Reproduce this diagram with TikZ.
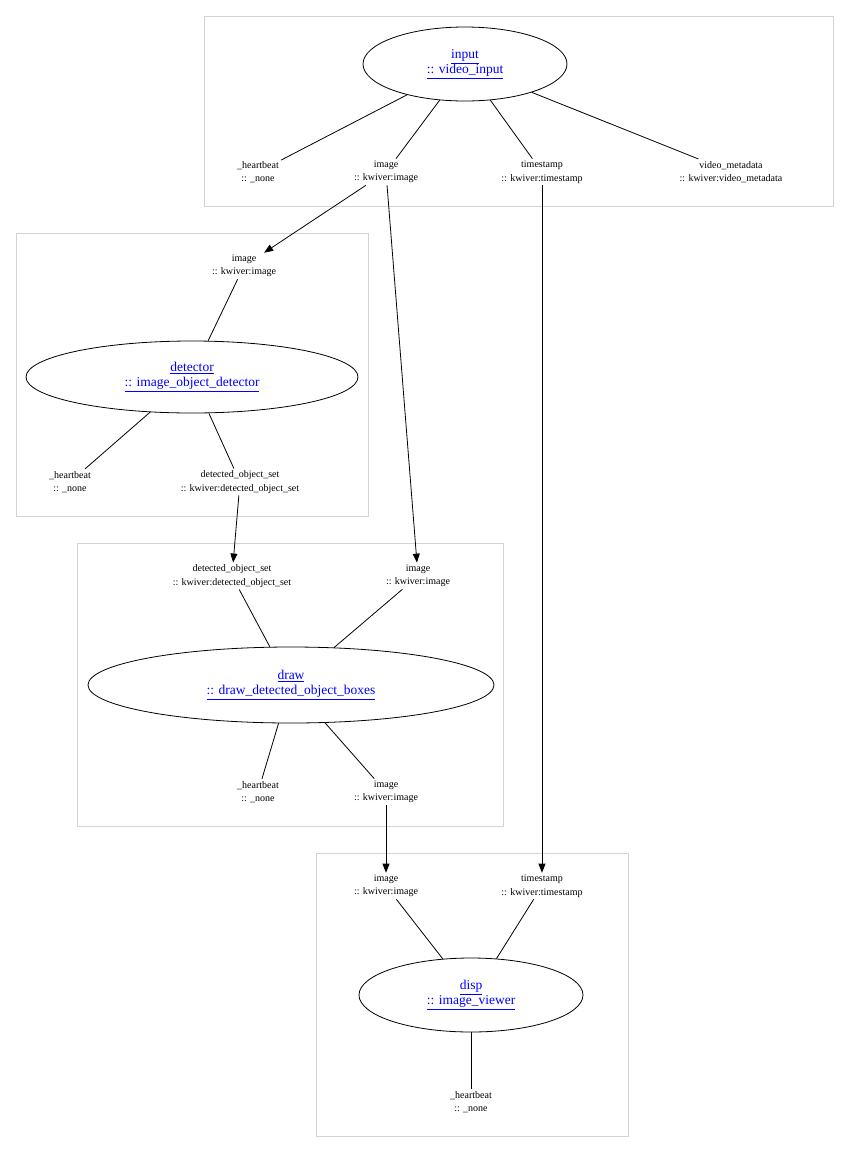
\documentclass[tikz,border=0pt]{standalone}
\usepackage{fontspec}
\setmainfont{Liberation Serif}
\usetikzlibrary{shapes.geometric,arrows.meta}
\definecolor{lnk}{RGB}{0,0,255}
\definecolor{clus}{RGB}{211,211,211}
\begin{document}
\begin{tikzpicture}[x=1pt,y=-1pt,
  lab/.style={align=center,font=\fontsize{10}{13.5}\selectfont,inner sep=2pt},
  proc/.style={ellipse,draw,line width=0.8pt,minimum width=#1,align=center,text=lnk,font=\fontsize{13.5}{15}\selectfont,inner sep=0pt},
  clu/.style={draw=clus,line width=0.8pt},
  ln/.style={line width=0.8pt},
  arr/.style={line width=0.8pt,-{Triangle[length=9pt,width=7pt]}}]
\useasboundingbox (0,0) rectangle (849,1152);
% clusters
\draw[clu] (204,16) rectangle (833,206);
\draw[clu] (16,233) rectangle (368,516);
\draw[clu] (77,543) rectangle (503,826);
\draw[clu] (316,853) rectangle (628,1136);
% cluster 1
\node[proc=204pt,minimum height=74pt] (input) at (465,64) {\underline{input}\\\underline{:: video\_input}};
\node[lab] (hb1) at (258,172) {\_heartbeat\\:: \_none};
\node[lab] (img1) at (386,172) {image\\:: kwiver:image};
\node[lab] (ts1) at (542,172) {timestamp\\:: kwiver:timestamp};
\node[lab] (vm1) at (731,172) {video\_metadata\\:: kwiver:video\_metadata};
\draw[ln] (input.208) -- (hb1);
\draw[ln] (input.235) -- (img1);
\draw[ln] (input.305) -- (ts1);
\draw[ln] (input.337) -- (vm1);
% cluster 2
\node[lab] (dimg) at (244,266) {image\\:: kwiver:image};
\node[proc=332pt,minimum height=72pt] (det) at (192,377) {\underline{detector}\\\underline{:: image\_object\_detector}};
\node[lab] (hb2) at (70,482) {\_heartbeat\\:: \_none};
\node[lab] (dos2) at (240,482) {detected\_object\_set\\:: kwiver:detected\_object\_set};
\draw[ln] (det.66) -- (dimg);
\draw[ln] (det.220) -- (hb2);
\draw[ln] (det.295) -- (dos2);
% cluster 3
\node[lab] (dos3) at (232,576) {detected\_object\_set\\:: kwiver:detected\_object\_set};
\node[lab] (img3) at (418,576) {image\\:: kwiver:image};
\node[proc=406pt,minimum height=76pt] (draw) at (291,685) {\underline{draw}\\\underline{:: draw\_detected\_object\_boxes}};
\node[lab] (hb3) at (258,792) {\_heartbeat\\:: \_none};
\node[lab] (img3o) at (386,792) {image\\:: kwiver:image};
\draw[ln] (draw.119) -- (dos3);
\draw[ln] (draw.41) -- (img3);
\draw[ln] (draw.252) -- (hb3);
\draw[ln] (draw.312) -- (img3o);
% cluster 4
\node[lab] (img4) at (386,886) {image\\:: kwiver:image};
\node[lab] (ts4) at (542,886) {timestamp\\:: kwiver:timestamp};
\node[proc=224pt,minimum height=74pt] (disp) at (471,995) {\underline{disp}\\\underline{:: image\_viewer}};
\node[lab] (hb4) at (471,1102) {\_heartbeat\\:: \_none};
\draw[ln] (disp.128) -- (img4);
\draw[ln] (disp.55) -- (ts4);
\draw[ln] (disp.270) -- (hb4);
% arrows
\draw[arr] (img1) -- (dimg);
\draw[arr] (img1) -- (img3);
\draw[arr] (ts1) -- (ts4);
\draw[arr] (dos2) -- (dos3);
\draw[arr] (img3o) -- (img4);
\end{tikzpicture}
\end{document}
